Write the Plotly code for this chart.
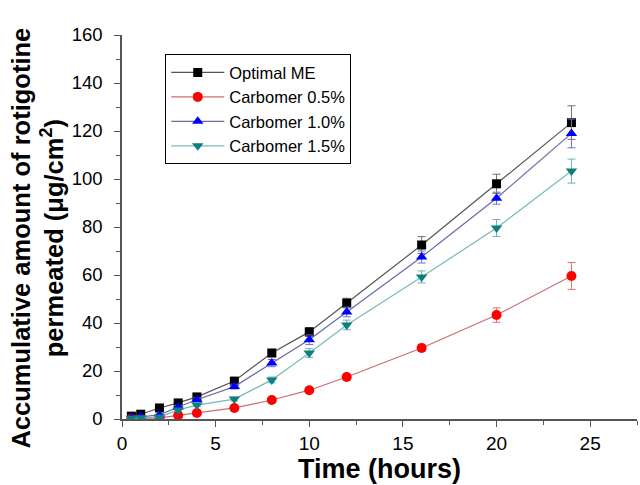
import plotly.graph_objects as go

time_h = [0.5, 1, 2, 3, 4, 6, 8, 10, 12, 16, 20, 24]

optimal_me = [1.2, 2.0, 4.6, 6.7, 9.2, 15.8, 27.5, 36.3, 48.3, 72.5, 98.0, 123.5]
optimal_me_err = [0.4, 0.5, 0.6, 0.8, 1.0, 1.2, 1.5, 1.8, 2.0, 3.5, 4.0, 7.0]

carb_05 = [0.1, 0.2, 0.5, 1.5, 2.5, 4.6, 7.9, 12.0, 17.5, 29.6, 43.3, 59.6]
carb_05_err = [0.1, 0.1, 0.2, 0.3, 0.4, 0.6, 0.8, 1.0, 1.2, 1.5, 3.0, 5.6]

carb_10 = [0.5, 1.0, 1.7, 5.0, 8.0, 13.5, 23.3, 33.0, 44.6, 67.5, 92.0, 119.0]
carb_10_err = [0.2, 0.3, 0.4, 0.6, 0.8, 1.0, 1.5, 2.0, 2.0, 2.5, 2.5, 6.0]

carb_15 = [0.3, 0.5, 0.8, 3.8, 5.8, 8.3, 16.3, 27.5, 39.2, 59.2, 79.6, 103.3]
carb_15_err = [0.1, 0.2, 0.3, 0.5, 0.6, 0.8, 1.2, 1.8, 2.0, 2.5, 3.5, 5.0]

series_names = ["Optimal ME", "Carbomer 0.5%", "Carbomer 1.0%", "Carbomer 1.5%"]
x_ticks = [0, 5, 10, 15, 20, 25]
y_ticks = [0, 20, 40, 60, 80, 100, 120, 140, 160]

styles = [
    dict(marker_color="#000000", line_color="#555555", err_color="#707070", symbol="square", size=9),
    dict(marker_color="#ff0000", line_color="#c87070", err_color="#e07070", symbol="circle", size=10),
    dict(marker_color="#0000ff", line_color="#6a6aa8", err_color="#7070c0", symbol="triangle-up", size=10),
    dict(marker_color="#0a8080", line_color="#7ab8b8", err_color="#70b0b0", symbol="triangle-down", size=10),
]

data = [(optimal_me, optimal_me_err), (carb_05, carb_05_err), (carb_10, carb_10_err), (carb_15, carb_15_err)]

fig = go.Figure()
for name, (vals, errs), st in zip(series_names, data, styles):
    fig.add_trace(go.Scatter(
        x=time_h, y=vals, name=name, mode="lines+markers",
        line=dict(color=st["line_color"], width=1.2),
        marker=dict(symbol=st["symbol"], size=st["size"], color=st["marker_color"]),
        error_y=dict(type="data", array=errs, visible=True, color=st["err_color"], thickness=1, width=4),
    ))

font_family = "Liberation Sans, Arial, sans-serif"
fig.update_layout(
    width=640, height=485,
    margin=dict(l=122, r=3, t=35, b=66),
    plot_bgcolor="white", paper_bgcolor="white",
    font=dict(family=font_family, color="#000000"),
    showlegend=True,
    legend=dict(
        x=0.084, y=0.95, xanchor="left", yanchor="top",
        bordercolor="#000000", borderwidth=1, bgcolor="white",
        font=dict(size=16.5, family=font_family),
        tracegroupgap=0, itemwidth=53,
    ),
    xaxis=dict(
        range=[0, 27.5], tickvals=x_ticks, ticks="outside", ticklen=6, tickwidth=1,
        tickcolor="#555555", showline=True, linecolor="#555555", linewidth=1.5,
        showgrid=False, zeroline=False, tickfont=dict(size=19, family=font_family),
        minor=dict(dtick=2.5, ticks="outside", ticklen=4, tickcolor="#555555"),
    ),
    yaxis=dict(
        range=[0, 160], tickvals=y_ticks, ticks="outside", ticklen=6, tickwidth=1,
        tickcolor="#555555", showline=True, linecolor="#555555", linewidth=1.5,
        showgrid=False, zeroline=False, tickfont=dict(size=18.5, family=font_family),
        ticklabelstandoff=8,
        minor=dict(dtick=10, ticks="outside", ticklen=4, tickcolor="#555555"),
    ),
    annotations=[
        dict(text="<b>Time (hours)</b>", xref="paper", yref="paper", x=0.5, y=-0.085,
             xanchor="center", yanchor="top", showarrow=False,
             font=dict(size=27, family=font_family)),
        dict(text="<b>Accumulative amount of rotigotine<br>permeated (μg/cm<sup>2</sup>)</b>",
             xref="paper", yref="paper", x=-0.165, y=0.47, xanchor="center", yanchor="middle",
             textangle=-90, showarrow=False, font=dict(size=25.5, family=font_family)),
    ],
)

fig.write_html("out.html", config={"displayModeBar": False},
               post_script="document.body.style.margin='0';document.body.style.overflow='hidden';")
